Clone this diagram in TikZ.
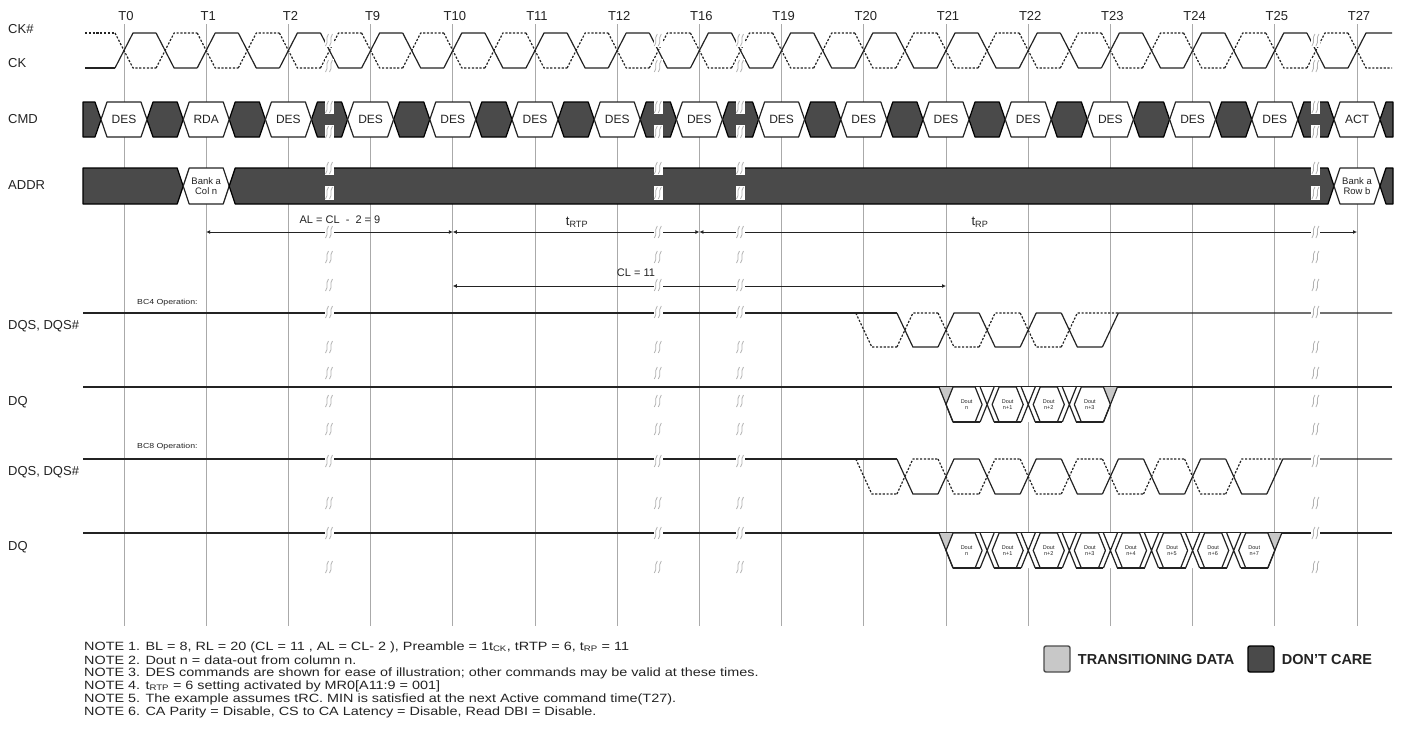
\documentclass[tikz,border=0pt]{standalone}
\usepackage{fontspec}
\setmainfont{Liberation Sans}
\newfontfamily\notefont[FakeStretch=1.2]{Liberation Sans}
\usetikzlibrary{arrows.meta,positioning}
\definecolor{dontcare}{RGB}{74,74,74}
\definecolor{transdata}{RGB}{200,200,200}
\definecolor{gridgray}{RGB}{170,170,170}
\definecolor{inkgray}{RGB}{35,35,35}
\tikzset{
  sig/.style    ={line width=1.2pt, inkgray, line join=round},
  sigdash/.style={sig, dash pattern=on 2.2pt off 1.6pt},
  cellv/.style  ={draw=inkgray, line width=1.2pt, fill=white, line join=round},
  celld/.style  ={draw=black, line width=1.2pt, fill=dontcare, line join=round},
  gridln/.style ={gridgray, line width=0.8pt},
  brkline/.style={gray!60, line width=0.8pt},
  dimarr/.style ={{Latex[length=4pt,width=4pt]}-{Latex[length=4pt,width=4pt]}, line width=0.8pt, inkgray},
  siglbl/.style ={anchor=west, inner sep=0pt, inkgray, font=\fontsize{13}{13}\selectfont},
  tlbl/.style   ={inner sep=0pt, inkgray, font=\fontsize{13}{13}\selectfont},
  celltxt/.style={inner sep=0pt, inkgray, font=\fontsize{12}{12}\selectfont},
  addrtxt/.style={inner sep=0pt, inkgray, align=center, font=\fontsize{9.5}{10}\selectfont},
  douttxt/.style={inner sep=0pt, inkgray, align=center, font=\fontsize{5.5}{6}\selectfont},
  dimlbl/.style ={inner sep=0pt, inkgray, font=\fontsize{11}{11}\selectfont},
  oplbl/.style  ={anchor=west, inner sep=0pt, inkgray, font=\notefont\fontsize{7.3}{8}\selectfont},
  notetxt/.style={anchor=west, inner sep=0pt, inkgray, font=\notefont\fontsize{12}{13}\selectfont},
  legbox/.style ={minimum size=26pt, inner sep=0pt, rounded corners=2pt, line width=1.4pt},
  legtxt/.style ={anchor=west, inner sep=0pt, inkgray, font=\bfseries\fontsize{14.5}{14.5}\selectfont},
}
% time-break mark
\newcommand{\brkmark}[2]{%
  \fill[white] (#1-4.5,#2-7) rectangle (#1+4.5,#2+7);
  \draw[brkline] (#1-4,#2+6) .. controls (#1-0.5,#2+1) and (#1-4.5,#2-1) .. (#1-1,#2-6);
  \draw[brkline] (#1,#2+6) .. controls (#1+3.5,#2+1) and (#1-0.5,#2-1) .. (#1+3,#2-6);
}

\begin{document}
\begin{tikzpicture}[x=1pt, y=-1pt]
  \useasboundingbox (0,0) rectangle (1401,745);
  % clock grid
  \foreach \i/\lab in {0/T0,1/T1,2/T2,3/T9,4/T10,5/T11,6/T12,7/T16,8/T19,9/T20,10/T21,11/T22,12/T23,13/T24,14/T25,15/T27} {
    \pgfmathsetmacro\x{124+82.2*\i}
    \coordinate (g\i) at (\x,24);
    \draw[gridln] (g\i) -- (\x,626);
    \node[tlbl] (tl\i) at (\x+2,16) {\lab};
  }
  % signal names
  \node[siglbl] (lckn)  at (8,29)  {CK\#};
  \node[siglbl] (lck)   at (8,63)  {CK};
  \node[siglbl] (lcmd)  at (8,119) {CMD};
  \node[siglbl] (laddr) at (8,185) {ADDR};
  \node[siglbl] (ldqsa) at (8,326) {DQS, DQS\#};
  \node[siglbl] (ldqa)  at (8,402) {DQ};
  \node[siglbl] (ldqsb) at (8,472) {DQS, DQS\#};
  \node[siglbl] (ldqb)  at (8,547) {DQ};
  % CK / CK#
  \draw[sig] (85,68) -- (115,68);
  \draw[sigdash] (85,33) -- (115,33);
  \foreach \kk in {0,...,30} {
    \pgfmathsetmacro\ex{124+41.1*\kk}
    \pgfmathsetmacro\ya{isodd(\kk) ? 68 : 33}
    \pgfmathsetmacro\yb{isodd(\kk) ? 33 : 68}
    \pgfmathsetmacro\nx{\kk==30 ? 1392 : \ex+32.1}
    \draw[sig] (\ex-9,\yb) -- (\ex+9,\ya) -- (\nx,\ya);
    \draw[sigdash] (\ex-9,\ya) -- (\ex+9,\yb) -- (\nx,\yb);
  }
  % CMD
  \foreach \i in {0,...,14} {
    \pgfmathsetmacro\x{124+82.2*\i}
    \path[celld] (\x+23,119.5) -- (\x+29,102) -- (\x+53.2,102) -- (\x+59.2,119.5) -- (\x+53.2,137) -- (\x+29,137) -- cycle;
  }
  \path[celld] (83,102) -- (95,102) -- (101,119.5) -- (95,137) -- (83,137) -- cycle;
  \path[celld] (1380,119.5) -- (1386,102) -- (1393,102) -- (1393,137) -- (1386,137) -- cycle;
  \foreach \i/\cname in {0/DES,1/RDA,2/DES,3/DES,4/DES,5/DES,6/DES,7/DES,8/DES,9/DES,10/DES,11/DES,12/DES,13/DES,14/DES,15/ACT} {
    \pgfmathsetmacro\x{124+82.2*\i}
    \path[cellv] (\x-23,119.5) -- (\x-17,102) -- (\x+17,102) -- (\x+23,119.5) -- (\x+17,137) -- (\x-17,137) -- cycle;
    \node[celltxt] (cmd\i) at (\x,119.5) {\cname};
  }
  % ADDR
  \path[celld] (83,168) -- (177.2,168) -- (183.2,186) -- (177.2,204) -- (83,204) -- cycle;
  \path[cellv] (183.2,186) -- (189.2,168) -- (223.2,168) -- (229.2,186) -- (223.2,204) -- (189.2,204) -- cycle;
  \node[addrtxt] (addr1) at (206.2,186) {Bank a\\Col n};
  \path[celld] (229.2,186) -- (235.2,168) -- (1328,168) -- (1334,186) -- (1328,204) -- (235.2,204) -- cycle;
  \path[cellv] (1334,186) -- (1340,168) -- (1374,168) -- (1380,186) -- (1374,204) -- (1340,204) -- cycle;
  \node[addrtxt] (addr15) at (1357,186) {Bank a\\Row b};
  \path[celld] (1380,186) -- (1386,168) -- (1393,168) -- (1393,204) -- (1386,204) -- cycle;
  % DQS, DQS#
  \foreach \hy/\ly/\ke/\kd in {313/347/24/23, 459/494/28/27} {
    \draw[sig] (83,\hy) -- (896.9,\hy);
    \foreach \kk in {19,...,\ke} {
      \pgfmathsetmacro\ex{124+41.1*\kk}
      \pgfmathsetmacro\ya{isodd(\kk) ? \ly : \hy}
      \pgfmathsetmacro\yb{isodd(\kk) ? \hy : \ly}
      \pgfmathsetmacro\nx{\kk==\ke ? 1392 : \ex+33.1}
      \draw[sig] (\ex-8,\yb) -- (\ex+8,\ya) -- (\nx,\ya);
    }
    \foreach \kk in {18,...,\kd} {
      \pgfmathsetmacro\ex{124+41.1*\kk}
      \pgfmathsetmacro\ya{isodd(\kk) ? \hy : \ly}
      \pgfmathsetmacro\yb{isodd(\kk) ? \ly : \hy}
      \pgfmathsetmacro\nx{\kk==\kd ? \ex+49.1 : \ex+33.1}
      \draw[sigdash] (\ex-8,\yb) -- (\ex+8,\ya) -- (\nx,\ya);
    }
  }
  % DQ bursts
  \foreach \dt/\db/\kl/\nm in {387/422/23/dqa, 533/568/27/dqb} {
    \pgfmathsetmacro\ym{(\dt+\db)/2}
    \pgfmathsetmacro\ea{124+41.1*20}
    \pgfmathsetmacro\eb{124+41.1*(\kl+1)}
    \draw[sig] (83,\dt) -- (1392,\dt);
    \fill[white] (\ea-7,\dt) -- (\eb+7,\dt) -- (\eb-7,\db) -- (\ea+7,\db) -- cycle;
    \fill[transdata] (\ea-7,\dt) -- (\ea+7,\dt) -- (\ea,\ym) -- cycle;
    \fill[transdata] (\eb-7,\dt) -- (\eb+7,\dt) -- (\eb,\ym) -- cycle;
    \draw[sig] (\ea-7,\dt) -- (\ea+7,\db);
    \draw[sig] (\eb-7,\db) -- (\eb+7,\dt);
    \foreach \kk in {20,...,\kl} {
      \pgfmathsetmacro\xa{124+41.1*\kk}
      \pgfmathsetmacro\xb{\xa+41.1}
      \pgfmathsetmacro\xl{\kk==20 ? \xa : \xa+5}
      \pgfmathsetmacro\xr{\kk==\kl ? \xb : \xb-5}
      \pgfmathtruncatemacro\nb{\kk-20}
      \ifnum\nb=0 \def\dlab{n}\else \edef\dlab{n+\nb}\fi
      \draw[sig] (\xl,\ym) -- (\xl+7,\dt) -- (\xr-7,\dt) -- (\xr,\ym) -- (\xr-7,\db) -- (\xl+7,\db) -- cycle;
      \draw[sig] (\xa+7,\db) -- (\xb-7,\db);
      \ifnum\kk>20 \draw[sig] (\xa-7,\dt) -- (\xa+7,\db) (\xa-7,\db) -- (\xa+7,\dt); \fi
      \node[douttxt] (\nm\nb) at ({(\xa+\xb)/2},\ym) {Dout\\\dlab};
    }
  }
  \node[oplbl] (opa) at (137,303) {BC4 Operation:};
  \node[oplbl] (opb) at (137,447) {BC8 Operation:};
  % timing parameters
  \coordinate (dimtop) at (0,232);
  \coordinate (dimcl) at (0,286);
  \draw[dimarr] (g1 |- dimtop) -- (g4 |- dimtop);
  \draw[dimarr] (g4 |- dimtop) -- (g7 |- dimtop);
  \draw[dimarr] (g7 |- dimtop) -- (g15 |- dimtop);
  \draw[dimarr] (g4 |- dimcl) -- (g10 |- dimcl);
  % time breaks
  \foreach \bx in {329.5,658.3,740.5,1315.9} {
    \foreach \by in {40,66,107,132,168,193,232,257,285,312,347,373,401,429,461,503,533,567} {
      \brkmark{\bx}{\by}
    }
  }
  \node[dimlbl] (al)   at (340,220) {AL = CL~ -~ 2 = 9};
  \node[dimlbl] (trtp) at (577,222) {\fontsize{13}{13}\selectfont t\textsubscript{RTP}};
  \node[dimlbl] (trp)  at (980,222) {\fontsize{13}{13}\selectfont t\textsubscript{RP}};
  \node[dimlbl] (cl)   at (636,273) {CL = 11};
  % notes
  \node[notetxt] (note1) at (84,647) {NOTE 1. BL = 8, RL = 20 (CL = 11 , AL = CL- 2 ), Preamble = 1t\textsubscript{CK}, tRTP = 6, t\textsubscript{RP} = 11};
  \node[notetxt] (note2) at (84,660) {NOTE 2. Dout n = data-out from column n.};
  \node[notetxt] (note3) at (84,673) {NOTE 3. DES commands are shown for ease of illustration; other commands may be valid at these times.};
  \node[notetxt] (note4) at (84,686) {NOTE 4. t\textsubscript{RTP} = 6 setting activated by MR0[A11:9 = 001]};
  \node[notetxt] (note5) at (84,699) {NOTE 5. The example assumes tRC. MIN is satisfied at the next Active command time(T27).};
  \node[notetxt] (note6) at (84,712) {NOTE 6. CA Parity = Disable, CS to CA Latency = Disable, Read DBI = Disable.};
  % legend
  \node[legbox, fill=transdata, draw=gray!60!black] (legtr) at (1057,659) {};
  \node[legtxt, right=7pt of legtr] (legtrt) {TRANSITIONING DATA};
  \node[legbox, fill=dontcare, draw=black] (legdc) at (1261,659) {};
  \node[legtxt, right=7pt of legdc] (legdct) {DON'T CARE};
\end{tikzpicture}
\end{document}
